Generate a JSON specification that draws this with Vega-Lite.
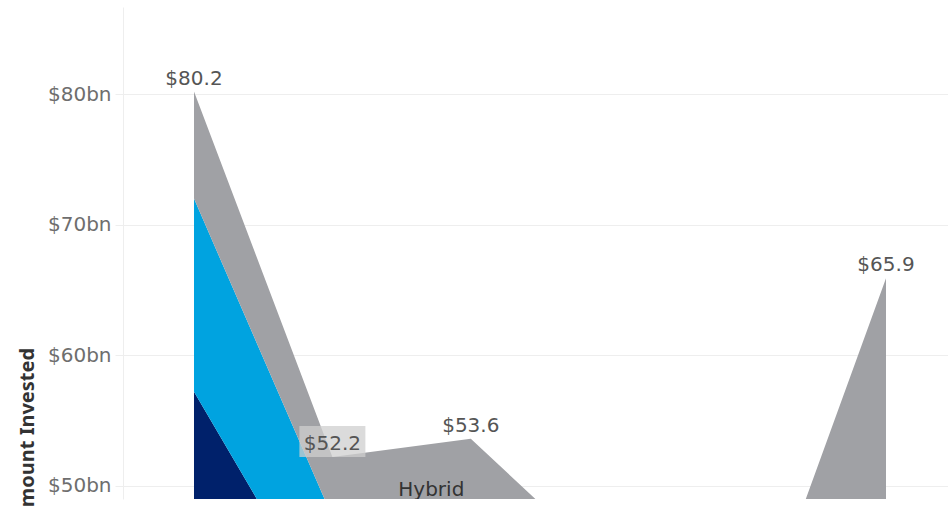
{
  "$schema": "https://vega.github.io/schema/vega-lite/v6.json",
  "autosize": "none",
  "padding": {"left": 123, "top": 7, "right": 0, "bottom": 7},
  "width": 825,
  "height": 492,
  "background": "white",
  "config": {"view": {"stroke": null}, "font": "DejaVu Sans"},
  "datasets": {
    "invest": [
      {"year": 2019, "type": "Debt", "amount": 57.2},
      {"year": 2019, "type": "Equity", "amount": 14.8},
      {"year": 2019, "type": "Hybrid", "amount": 8.2},
      {"year": 2020, "type": "Debt", "amount": 39.1},
      {"year": 2020, "type": "Equity", "amount": 8.5},
      {"year": 2020, "type": "Hybrid", "amount": 4.6},
      {"year": 2021, "type": "Debt", "amount": 35.0},
      {"year": 2021, "type": "Equity", "amount": 10.0},
      {"year": 2021, "type": "Hybrid", "amount": 8.6},
      {"year": 2022, "type": "Debt", "amount": 30.0},
      {"year": 2022, "type": "Equity", "amount": 8.0},
      {"year": 2022, "type": "Hybrid", "amount": 5.7},
      {"year": 2023, "type": "Debt", "amount": 25.0},
      {"year": 2023, "type": "Equity", "amount": 6.0},
      {"year": 2023, "type": "Hybrid", "amount": 5.7},
      {"year": 2024, "type": "Debt", "amount": 30.0},
      {"year": 2024, "type": "Equity", "amount": 8.0},
      {"year": 2024, "type": "Hybrid", "amount": 27.9}
    ],
    "seriesLabel": [
      {"year": 2021, "label": "Hybrid"}
    ]
  },
  "data": {"name": "invest"},
  "layer": [
    {
      "mark": {"type": "area", "clip": true, "interpolate": "linear"},
      "encoding": {
        "x": {"field": "year", "type": "quantitative", "scale": {"domain": [2018.487, 2024.448], "nice": false, "zero": false}, "axis": null},
        "y": {
          "field": "amount", "type": "quantitative", "stack": "zero",
          "scale": {"domain": [48.98, 86.68], "nice": false, "zero": false},
          "axis": {
            "values": [50, 60, 70, 80],
            "labelExpr": "'$' + datum.value + 'bn'",
            "grid": true,
            "gridColor": "#eeeeee",
            "tickColor": "#eeeeee",
            "tickSize": 8,
            "domainColor": "#eeeeee",
            "labelFont": "DejaVu Sans",
            "labelFontSize": 20,
            "labelColor": "#6e6e6e",
            "labelPadding": 4,
            "title": "Amount Invested",
            "titleFont": "Noto Sans",
            "titleFontWeight": "bold",
            "titleFontSize": 20,
            "titleColor": "#333333",
            "titleAngle": 270,
            "titleAlign": "center",
            "titleBaseline": "alphabetic",
            "titleX": -90,
            "titleY": 427
          }
        },
        "color": {"field": "type", "type": "nominal", "scale": {"domain": ["Debt", "Equity", "Hybrid"], "range": ["#00216B", "#00A3E0", "#A0A1A5"]}, "legend": null},
        "order": {"field": "type", "sort": "ascending"}
      }
    },
    {
      "transform": [
        {"aggregate": [{"op": "sum", "field": "amount", "as": "total"}], "groupby": ["year"]},
        {"filter": "datum.year == 2020"}
      ],
      "mark": {"type": "point", "shape": "M-1,-0.47L1,-0.47L1,0.47L-1,0.47Z", "size": 4356, "filled": true, "color": "#cfcfcf", "opacity": 0.75, "yOffset": -15.5, "clip": true},
      "encoding": {
        "x": {"field": "year", "type": "quantitative"},
        "y": {"field": "total", "type": "quantitative"}
      }
    },
    {
      "transform": [
        {"aggregate": [{"op": "sum", "field": "amount", "as": "total"}], "groupby": ["year"]},
        {"filter": "datum.total >= 49"}
      ],
      "mark": {"type": "text", "dy": -7, "baseline": "alphabetic", "align": "center", "fontSize": 20, "font": "DejaVu Sans", "color": "#555555", "clip": true},
      "encoding": {
        "x": {"field": "year", "type": "quantitative"},
        "y": {"field": "total", "type": "quantitative"},
        "text": {"field": "total", "type": "quantitative", "format": "$.1f"}
      }
    },
    {
      "data": {"name": "seriesLabel"},
      "mark": {"type": "text", "dx": -39.5, "baseline": "alphabetic", "align": "center", "fontSize": 20, "font": "DejaVu Sans", "color": "#333333", "clip": true},
      "encoding": {
        "x": {"field": "year", "type": "quantitative"},
        "y": {"datum": 49.21},
        "text": {"field": "label"}
      }
    }
  ]
}
